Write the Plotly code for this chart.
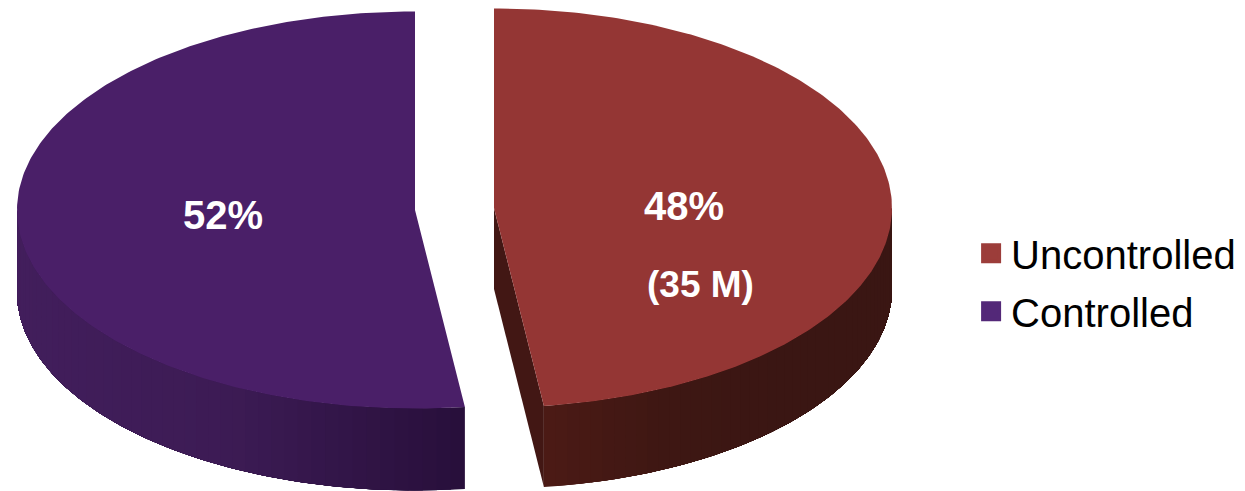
import numpy as np
import plotly.graph_objects as go

# Share of cases by control status
categories = ["Uncontrolled", "Controlled"]
values = [48, 52]
slice_notes = ["(35 M)", ""]

top_colors = ["#943634", "#4a1f68"]
legend_colors = ["#9c3d3a", "#532878"]
wall_stops = [
    ["#4b1a15", "#3e1713", "#3a1613", "#3a1613"],   # uncontrolled wall, front to right edge
    ["#280f3b", "#3c1b54", "#421e5c"],  # controlled wall, front to left edge
]

WIDTH, HEIGHT = 1245, 491
RX = 398
# centre x, centre y, vertical radius, wall height of each exploded slice
slice_geometry = [(494, 208, 199.5, 81), (415, 210, 198.5, 82)]
# label anchors
label_pos = [(684, 206), (223, 215)]
note_pos = [(700, 284), None]


def hex_rgb(h):
    return np.array([int(h[i:i + 2], 16) for i in (1, 3, 5)], dtype=float)


def ramp(stops, t):
    pos = np.linspace(0, 1, len(stops))
    rgb = [np.interp(t, pos, [hex_rgb(s)[k] for s in stops]) for k in range(3)]
    return "rgb({:.0f},{:.0f},{:.0f})".format(*rgb)


def rim(cx, cy, ry, a):
    # angle runs clockwise from twelve o'clock
    return cx + RX * np.sin(a), cy - ry * np.cos(a)


def band(fig, xs, ys, color):
    fig.add_trace(go.Scatter(x=xs, y=ys, mode="lines", fill="toself", fillcolor=color,
                             line=dict(color=color, width=0), hoverinfo="skip",
                             showlegend=False))


fig = go.Figure()
total = sum(values)
edges = np.cumsum([0] + values) / total * 2 * np.pi

for i, name in enumerate(categories):
    cx, cy, ry, depth = slice_geometry[i]
    a0, a1 = edges[i], edges[i + 1]

    # outer wall: only the part on the viewer's side of the ellipse.
    # Each band runs on to the far end of the wall and the next one paints over it,
    # so neighbouring colours leave no seam between them.
    w0, w1 = max(a0, np.pi / 2), min(a1, 3 * np.pi / 2)
    front, far = (w1, w0) if i == 0 else (w0, w1)
    steps = 48
    for k in range(steps):
        start = front + (far - front) * k / steps
        arc = np.linspace(start, far, 200 - 3 * k)
        x, y = rim(cx, cy, ry, arc)
        xs = np.r_[x, x[::-1], x[0]]
        ys = np.r_[y, y[::-1] + depth, y[0]]
        band(fig, xs, ys, ramp(wall_stops[i], abs(np.sin(start) - np.sin(front)) / abs(np.sin(far) - np.sin(front))))

    # cut face, visible only where it turns towards the viewer
    if i == 0:
        ex, ey = rim(cx, cy, ry, a1)
        x, y = [cx, ex, ex, cx, cx], [cy, ey, ey + depth, cy + depth, cy]
        band(fig, x, y, "#421714")

    # top face
    x, y = rim(cx, cy, ry, np.linspace(a0, a1, 240))
    fig.add_trace(go.Scatter(x=np.r_[cx, x, cx], y=np.r_[cy, y, cy], mode="lines",
                             fill="toself", fillcolor=top_colors[i],
                             line=dict(color=top_colors[i], width=0),
                             hoverinfo="skip", showlegend=False))

    # legend entry
    fig.add_trace(go.Scatter(x=[None], y=[None], mode="markers", name=name,
                             legendgroup=name,
                             marker=dict(symbol="square", size=16, color=legend_colors[i],
                                         line=dict(color=legend_colors[i], width=4))))

    # value labels
    fig.add_annotation(x=label_pos[i][0], y=label_pos[i][1], text=f"<b>{values[i]}%</b>",
                       showarrow=False, font=dict(family="Liberation Sans", size=40, color="white"))
    if slice_notes[i]:
        fig.add_annotation(x=note_pos[i][0], y=note_pos[i][1], text=f"<b>{slice_notes[i]}</b>",
                           showarrow=False, font=dict(family="Liberation Sans", size=37, color="white"))

fig.update_layout(
    width=WIDTH, height=HEIGHT,
    margin=dict(l=0, r=0, t=0, b=0),
    paper_bgcolor="white", plot_bgcolor="white",
    xaxis=dict(range=[0, WIDTH], visible=False, fixedrange=True),
    yaxis=dict(range=[HEIGHT, 0], visible=False, fixedrange=True),
    legend=dict(x=0.78, y=0.425, xanchor="left", yanchor="middle", bgcolor="rgba(0,0,0,0)",
                font=dict(family="Liberation Sans", size=40, color="#000000"),
                tracegroupgap=3, itemwidth=30),
    hovermode=False,
)

fig.write_html("out.html", config=dict(displayModeBar=False))
